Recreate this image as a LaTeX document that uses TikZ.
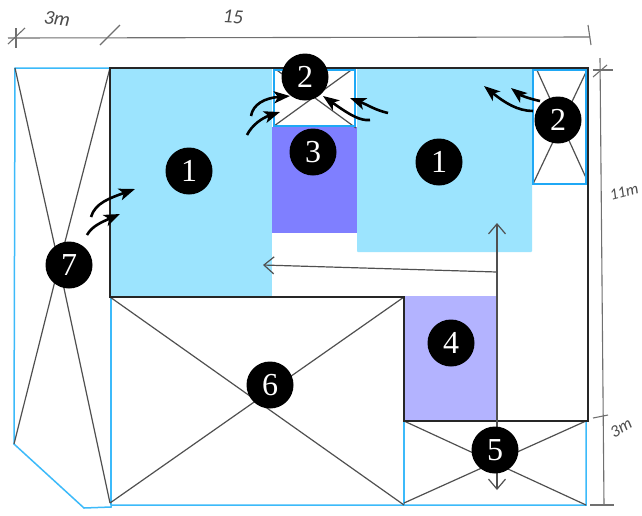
\documentclass[tikz,border=0pt]{standalone}
\usepackage{fontspec}
\setmainfont{Liberation Serif}
\newfontfamily\handfont{Carlito}
\usetikzlibrary{arrows.meta}
\definecolor{roomblue}{HTML}{9CE4FE}
\definecolor{room3}{HTML}{7F7FFF}
\definecolor{room4}{HTML}{B3B3FF}
\definecolor{edgeblue}{HTML}{1FA8F5}
\definecolor{thinblue}{HTML}{3CBAFA}
\definecolor{diag}{HTML}{505050}
\definecolor{dimgray}{HTML}{707070}
\tikzset{
  numdot/.style={circle,fill=black,text=white,minimum size=47pt,inner sep=0pt,font=\fontsize{32}{32}\selectfont},
  wall/.style={draw=black!85,line width=2.2pt},
  boundary/.style={draw=thinblue,line width=1.5pt},
  window/.style={draw=edgeblue,line width=2.6pt},
  diagonal/.style={draw=diag,line width=1.2pt},
  dimline/.style={draw=dimgray,line width=1.1pt},
  sketcharrow/.style={draw=diag,line width=1.2pt,-{Straight Barb[length=10pt,width=17pt]}},
  airflow/.style={draw=black,line width=2.6pt,-{Stealth[length=16pt,width=12pt,inset=4pt]}},
  handtext/.style={text=black!70,font=\handfont\itshape\fontsize{20}{20}\selectfont,inner sep=0pt}
}
\begin{document}
\begin{tikzpicture}[x=1pt,y=-1pt]
\useasboundingbox (0,0) rectangle (642,515);
\fill[white] (0,0) rectangle (642,515);
% coloured rooms
\fill[roomblue] (111,68) rectangle (272,297);
\fill[roomblue,rounded corners=1pt] (357,68) rectangle (532,252);
\fill[room3] (272,127) rectangle (357,233);
\fill[room4] (404,296) rectangle (496,420);
% boundaries
\draw[boundary] (110,68) -- (15,68) -- (14,444) -- (84,508) -- (111,507) -- (111,505) -- (586,505) -- (586,421);
\draw[boundary] (111,297) -- (111,505);
\draw[boundary] (404,421) -- (404,505);
% diagonals
\coordinate (c7) at (69,265);
\coordinate (x7) at (59,265);
\coordinate (c6) at (270,385);
\coordinate (c5) at (495,450);
\draw[diagonal] (15,68) -- (x7) -- (110,503);
\draw[diagonal] (110,68) -- (x7) -- (14,444);
\draw[diagonal] (110,297) -- (404,505);
\draw[diagonal] (110,503) -- (404,297);
\draw[diagonal] (404,421) -- (586,505);
\draw[diagonal] (404,503) -- (586,421);
\draw[diagonal] (274,126) -- (354,68);
\draw[diagonal] (274,68) -- (356,128);
\draw[diagonal] (536,68) -- (587,180);
\draw[diagonal] (587,70) -- (533,184);
% windows
\draw[window] (274,70) rectangle (355,126);
\draw[window] (533,70) rectangle (586,184);
% walls
\draw[wall] (110,68) -- (588,68) -- (588,421) -- (404,421) -- (404,297) -- (110,297) -- cycle;
% dimensions
\draw[dimline] (8,38) -- (590,37);
\draw[dimline] (16,28) -- (16,48);
\draw[dimline] (8,44) -- (25,28);
\draw[dimline] (100,45) -- (120,25);
\draw[dimline] (588,25) -- (591,45);
\draw[dimline] (600,58) -- (604,505);
\draw[dimline] (593,70) -- (613,70);
\draw[dimline] (593,77) -- (607,65);
\draw[dimline] (593,418) -- (608,415);
\draw[dimline] (590,505) -- (614,505);
\node[handtext,rotate=-8] (d3m) at (57,19) {3m};
\node[handtext,rotate=-3] (d15) at (233,17) {15};
\node[handtext,rotate=15,font=\handfont\itshape\fontsize{16}{16}\selectfont] (d11m) at (624,192) {11m};
\node[handtext,rotate=30,font=\handfont\itshape\fontsize{17}{17}\selectfont] (d3mb) at (621,428) {3m};
% circulation arrows
\coordinate (j) at (497,272);
\coordinate (aw) at (263,265);
\coordinate (an) at (497,223);
\coordinate (as) at (497,490);
\draw[sketcharrow] (j) -- (aw);
\draw[sketcharrow] (j) -- (an);
\draw[sketcharrow] (j) -- (as);
% air-flow arrows
\draw[airflow] (91,217) .. controls (95,203) and (110,198) .. (135,189);
\draw[airflow] (87,235) .. controls (92,226) and (102,222) .. (120,214);
\draw[airflow] (251,116) .. controls (253,104) and (265,98) .. (290,96);
\draw[airflow] (247,135) .. controls (252,125) and (262,118) .. (280,112);
\draw[airflow] (370,120) .. controls (360,121) and (350,115) .. (323,96);
\draw[airflow] (388,113) .. controls (375,110) and (368,105) .. (350,98);
\draw[airflow] (533,111) .. controls (518,111) and (505,103) .. (484,86);
\draw[airflow] (540,101) .. controls (530,99) and (520,95) .. (511,88);
% numbered markers
\node[numdot] (n1a) at (189,171) {1};
\node[numdot] (n2a) at (305,77) {2};
\node[numdot] (n3) at (313,152) {3};
\node[numdot] (n1b) at (439,162) {1};
\node[numdot] (n2b) at (558,120) {2};
\node[numdot] (n4) at (451,343) {4};
\node[numdot] (n5) at (c5) {5};
\node[numdot] (n6) at (c6) {6};
\node[numdot] (n7) at (c7) {7};
\end{tikzpicture}
\end{document}
